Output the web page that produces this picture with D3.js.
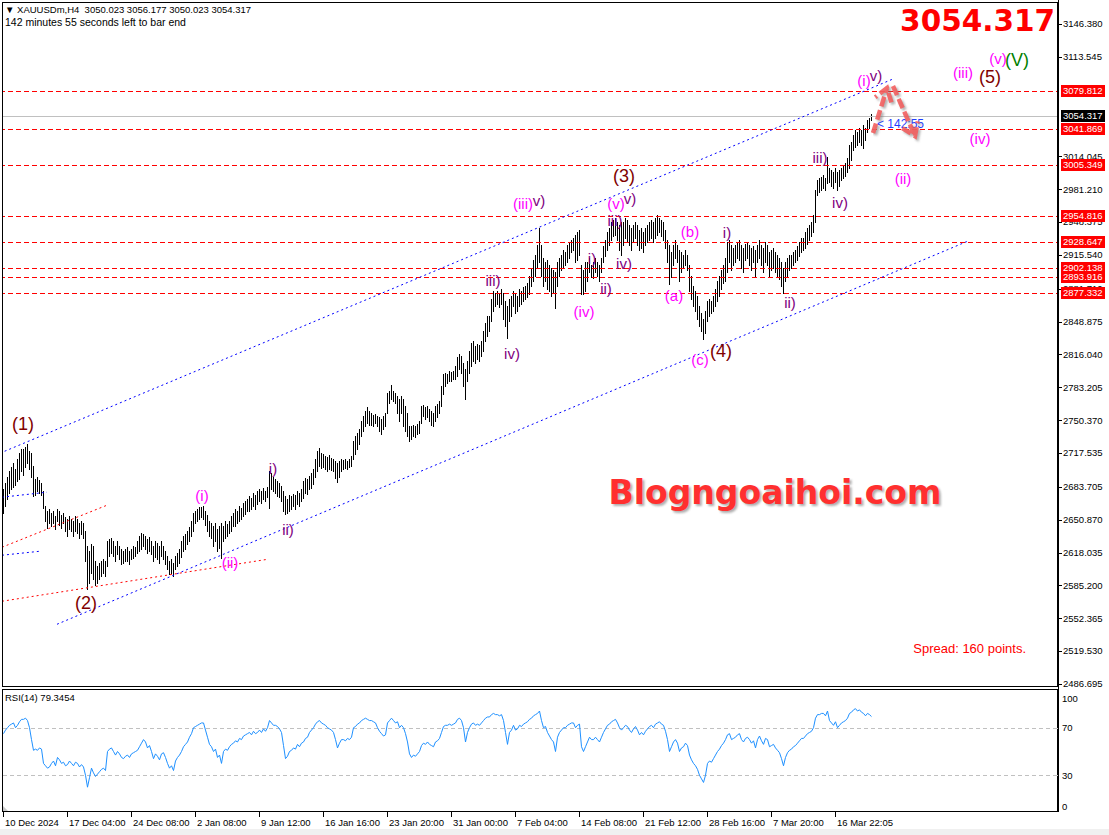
<!DOCTYPE html>
<html>
<head>
<meta charset="utf-8">
<script src="https://cdn.jsdelivr.net/npm/d3@7"></script>
<style>
body { margin: 0; background: #fff; }
svg { display: block; }
</style>
</head>
<body>
<svg id="chart" width="1109" height="835" font-family="Liberation Sans, Arial, sans-serif"></svg>
<script>
// XAUUSDm H4, one value per bar
const highs = [
2682,2688,2694,2700,2704,2708,2702,2712,2718,2722,
2722,2724,2727,2720,2718,2705,2692,2694,2691,2688,
2680,2665,2660,2662,2658,2660,2655,2662,2660,2656,
2658,2654,2652,2655,2652,2650,2655,2652,2648,2650,
2648,2640,2625,2620,2627,2625,2610,2605,2608,2610,
2612,2610,2630,2632,2633,2630,2625,2630,2625,2622,
2620,2622,2624,2620,2622,2625,2624,2630,2635,2638,
2637,2635,2632,2634,2630,2625,2630,2628,2625,2630,
2625,2620,2615,2610,2612,2608,2615,2618,2622,2630,
2635,2637,2640,2644,2650,2658,2660,2662,2664,2664,
2665,2660,2656,2650,2648,2645,2648,2642,2645,2648,
2645,2650,2647,2650,2655,2658,2662,2660,2665,2663,
2668,2670,2672,2675,2673,2678,2676,2680,2682,2680,
2683,2680,2684,2700,2698,2694,2692,2690,2688,2685,
2680,2675,2672,2676,2675,2677,2676,2680,2678,2682,
2690,2693,2692,2695,2698,2702,2712,2720,2723,2718,
2717,2715,2714,2716,2713,2712,2710,2708,2710,2712,
2711,2712,2710,2712,2715,2730,2735,2738,2742,2750,
2755,2760,2764,2760,2758,2756,2757,2755,2754,2752,
2755,2758,2778,2780,2786,2780,2778,2775,2772,2775,
2772,2765,2758,2745,2745,2746,2745,2747,2750,2765,
2766,2764,2765,2762,2760,2758,2765,2767,2770,2785,
2797,2798,2797,2800,2799,2800,2805,2814,2817,2815,
2808,2802,2810,2820,2828,2830,2825,2827,2826,2830,
2840,2848,2855,2855,2872,2880,2878,2880,2878,2882,
2878,2870,2865,2872,2875,2880,2878,2875,2882,2880,
2884,2885,2888,2895,2902,2910,2915,2925,2942,2925,
2912,2908,2910,2905,2902,2900,2898,2908,2912,2915,
2920,2918,2925,2928,2930,2932,2935,2938,2940,2905,
2900,2908,2908,2912,2905,2908,2912,2908,2905,2912,
2924,2930,2938,2942,2948,2950,2952,2948,2945,2948,
2948,2952,2950,2945,2942,2945,2948,2945,2940,2942,
2938,2942,2945,2948,2950,2948,2952,2955,2952,2950,
2948,2940,2930,2925,2918,2925,2930,2925,2920,2918,
2915,2920,2915,2905,2895,2885,2880,2875,2865,2858,
2852,2860,2870,2872,2870,2875,2882,2890,2895,2900,
2905,2912,2928,2930,2925,2922,2925,2928,2930,2925,
2922,2926,2928,2925,2922,2924,2920,2925,2930,2925,
2922,2928,2925,2918,2920,2922,2918,2915,2912,2908,
2902,2908,2912,2915,2915,2918,2920,2924,2928,2932,
2932,2938,2942,2945,2948,2955,2980,2990,2992,2993,
2995,2992,3013,3002,3000,2998,3002,2998,3000,3002,
3005,3007,3012,3025,3028,3035,3040,3038,3042,3040,
3045,3042,3050,3052,3056.177
];
const lows = [
2658,2665,2672,2678,2682,2684,2686,2690,2692,2700,
2696,2704,2708,2702,2694,2675,2676,2680,2678,2676,
2663,2650,2643,2648,2645,2648,2642,2650,2646,2643,
2648,2640,2635,2642,2640,2635,2640,2638,2633,2637,
2633,2610,2582,2588,2598,2592,2586,2588,2592,2595,
2598,2595,2605,2615,2618,2615,2610,2617,2612,2607,
2608,2610,2610,2607,2612,2613,2615,2618,2620,2622,
2625,2622,2618,2620,2617,2610,2614,2612,2608,2615,
2612,2607,2602,2597,2598,2595,2602,2605,2608,2614,
2620,2622,2627,2630,2635,2640,2648,2650,2652,2654,
2652,2646,2640,2635,2633,2625,2630,2620,2623,2613,
2630,2633,2635,2638,2640,2645,2645,2648,2650,2652,
2655,2657,2660,2660,2662,2665,2662,2667,2670,2668,
2672,2670,2674,2663,2682,2680,2678,2675,2674,2670,
2660,2657,2658,2660,2662,2665,2662,2667,2665,2670,
2673,2678,2677,2682,2683,2687,2694,2700,2705,2703,
2704,2702,2700,2702,2701,2700,2693,2689,2694,2700,
2702,2703,2702,2704,2705,2712,2717,2722,2727,2735,
2740,2745,2748,2746,2746,2745,2748,2745,2740,2737,
2742,2745,2758,2768,2772,2770,2768,2758,2750,2758,
2745,2740,2735,2730,2732,2735,2734,2737,2738,2748,
2755,2752,2754,2750,2746,2745,2750,2754,2758,2765,
2777,2785,2788,2790,2790,2792,2792,2795,2802,2798,
2785,2772,2790,2798,2805,2810,2808,2812,2810,2815,
2820,2830,2835,2840,2850,2860,2865,2867,2864,2867,
2852,2845,2833,2850,2855,2865,2858,2860,2865,2867,
2870,2872,2874,2877,2885,2890,2895,2902,2908,2895,
2885,2890,2882,2880,2875,2878,2863,2885,2895,2900,
2902,2905,2908,2912,2918,2920,2908,2910,2915,2877,
2877,2880,2890,2898,2894,2893,2898,2895,2890,2898,
2908,2914,2920,2925,2930,2934,2935,2930,2920,2915,
2925,2932,2928,2925,2920,2928,2932,2925,2920,2922,
2918,2925,2928,2930,2932,2928,2932,2935,2938,2934,
2930,2922,2908,2887,2894,2905,2912,2908,2890,2898,
2902,2905,2900,2880,2872,2865,2860,2852,2845,2840,
2832,2838,2850,2855,2858,2860,2865,2870,2875,2882,
2888,2890,2898,2908,2900,2905,2908,2912,2910,2902,
2898,2910,2912,2905,2900,2908,2895,2908,2912,2905,
2898,2908,2905,2895,2900,2902,2898,2895,2892,2885,
2878,2890,2895,2900,2902,2905,2908,2910,2914,2918,
2920,2922,2926,2930,2934,2938,2948,2975,2978,2980,
2982,2980,2987,2988,2984,2982,2988,2980,2984,2990,
2992,2994,2998,3002,3010,3020,3023,3025,3028,3025,
3022,3030,3038,3042,3050.023
];
const rsi = [
65,68,70,72,73,74,70,72,75,77,
77,78,76,70,60,51,52,51,53,52,
40,38,36,37,40,42,38,45,43,40,
41,38,39,42,40,38,41,40,37,39,
37,30,20,28,36,32,29,31,33,35,
36,34,50,52,53,50,47,50,48,45,
44,46,47,45,48,49,50,51,54,57,
60,58,53,55,50,44,48,46,43,48,
49,45,40,36,38,34,42,45,47,50,
54,56,58,62,65,70,71,72,73,74,
74,68,62,56,54,50,52,45,47,40,
50,52,51,54,56,57,59,58,61,60,
63,64,65,66,64,67,65,66,68,66,
69,67,70,76,74,72,72,71,69,66,
55,44,46,50,51,53,52,56,54,57,
58,61,62,66,68,70,73,75,76,74,
73,72,70,69,68,66,60,53,57,60,
60,59,61,60,62,70,71,73,74,76,
77,78,77,76,76,75,74,70,67,65,
63,64,74,76,78,76,74,75,70,72,
70,65,58,48,45,47,46,48,50,55,
57,56,58,56,55,54,58,59,61,66,
71,72,72,73,72,73,74,77,78,76,
70,58,66,70,73,74,72,73,72,74,
76,78,79,79,81,82,81,81,80,81,
76,66,56,66,68,72,68,69,72,71,
73,74,75,77,78,80,81,82,84,76,
70,71,66,63,60,58,50,62,66,68,
70,70,72,73,74,74,70,72,73,54,
50,54,58,62,60,60,62,60,58,62,
66,69,72,73,75,76,77,74,70,68,
70,72,71,68,66,69,71,68,64,66,
64,67,69,71,72,70,73,74,75,73,
72,67,60,50,54,58,60,57,50,53,
54,57,55,47,43,40,38,35,30,27,
24,30,40,42,41,44,47,50,52,55,
57,60,64,65,60,61,62,64,65,60,
58,61,62,60,57,59,53,60,63,59,
56,61,60,54,55,56,53,51,49,44,
38,45,49,51,52,54,55,57,59,61,
61,63,65,66,67,70,78,81,81,82,
82,80,84,76,74,72,75,70,72,74,
75,76,78,82,83,85,86,84,85,83,
82,80,82,81,79.3454
];

const timeLabels = ['10 Dec 2024','17 Dec 04:00','24 Dec 08:00','2 Jan 08:00','9 Jan 12:00','16 Jan 16:00',
  '23 Jan 20:00','31 Jan 00:00','7 Feb 04:00','14 Feb 08:00','21 Feb 12:00','28 Feb 16:00','7 Mar 20:00','16 Mar 22:05'];
const timeTickBars = [0,32,64,96,128,160,192,224,256,288,320,352,384,416];
// ticks hidden behind the price labels are left out
const priceTicks = [3146.380,3113.545,3014.045,2981.210,2948.375,2915.540,2881.710,2848.875,
  2816.040,2783.205,2750.370,2717.535,2683.705,2650.870,2618.035,2585.200,2552.365,2519.530,2486.695];
const levels = [2877.332,2893.916,2902.138,2928.647,2954.816,3005.349,3041.869,3079.812];
const lastPrice = 3054.317;
const rsiTicks = [100,70,30,0];
const rsiLevels = [70,30];

// trend lines as [bar, price] anchors
const trendLines = [
  {c:'#0000ff', p:[[-1.5,2717.4],[445,3091.4]]},
  {c:'#0000ff', p:[[27,2546.4],[482.5,2929.4]]},
  {c:'#0000ff', p:[[-0.5,2673.4],[22,2678.4]]},
  {c:'#0000ff', p:[[-0.5,2615.4],[18.5,2619.4]]},
  {c:'#ff0000', p:[[-0.5,2623.4],[52,2665.4]]},
  {c:'#ff0000', p:[[-0.5,2569.4],[132.5,2611.4]]}
];
const arrows = [
  [[435,3037.4],[442,3082.4]],
  [[445,3084.4],[456,3034.4]]
];

// wave labels: text, bar, price, style
const waves = [
  ['(1)',10,2747,'M'],['(2)',41.5,2568,'M'],['(3)',310.5,2995,'M'],['(4)',359,2820,'M'],['(5)',493.5,3094,'M'],
  ['(V)',507,3111,'G'],
  ['(i)',99.5,2675,'m'],['(ii)',113.5,2608,'m'],['(iii)',260,2967,'m'],['(iv)',290.5,2859,'m'],['(v)',306.5,2967,'m'],
  ['(b)',343.5,2939,'m'],['(a)',335.5,2875,'m'],['(c)',348.5,2811,'m'],
  ['(i)',430.5,3090,'m'],['(ii)',450,2992,'m'],['(iii)',480,3098,'m'],['(iv)',488.5,3032,'m'],['(v)',497.5,3112,'m'],
  ['i)',135,2702,'p'],['ii)',142.5,2641,'p'],['iii)',245,2890,'p'],['iv)',254.5,2817,'p'],['v)',268,2970,'p'],
  ['i)',294.5,2912,'p'],['ii)',301.5,2882,'p'],['iii)',306,2950,'p'],['iv)',310.5,2907,'p'],['v)',313.5,2972,'p'],
  ['i)',362,2938,'p'],['ii)',393.5,2868,'p'],['iii)',408.5,3013,'p'],['iv)',418.5,2968,'p'],['v)',436.5,3095,'p']
];
const waveStyle = {
  M: {fill:'#800000', size:18},
  G: {fill:'#008000', size:18},
  m: {fill:'#ff00ff', size:15},
  p: {fill:'#800080', size:15}
};

const SMALL = 9.5;
const BOLD = '"DejaVu Sans", Verdana, sans-serif';

const svg = d3.select('#chart');
const n = highs.length;
const x = d3.scaleLinear().domain([0, n - 1]).range([3, 3 + 2 * (n - 1)]);
const y = d3.scaleLinear().domain([2486.695, 3146.380]).range([684, 24]);
const yr = d3.scaleLinear().domain([0, 100]).range([811, 692]);
const axisX = 1058;
const py = v => Math.round(y(v)) + 0.5;

svg.append('rect').attr('width', 1109).attr('height', 835).attr('fill', '#fff');
svg.append('rect').attr('y', 829).attr('width', 1109).attr('height', 6).attr('fill', '#f0f0f0');

const defs = svg.append('defs');
defs.append('clipPath').attr('id', 'mainClip')
  .append('rect').attr('x', 2).attr('y', 2).attr('width', axisX - 2).attr('height', 685);
defs.append('filter').attr('id', 'blur').append('feGaussianBlur').attr('stdDeviation', 1.2);

const main = svg.append('g').attr('clip-path', 'url(#mainClip)');

// bars
main.append('g').attr('shape-rendering', 'crispEdges')
  .selectAll('line').data(highs).join('line')
  .attr('x1', (d, i) => x(i) + 0.5).attr('x2', (d, i) => x(i) + 0.5)
  .attr('y1', d => Math.round(y(d))).attr('y2', (d, i) => Math.round(y(lows[i])) + 1)
  .attr('stroke', '#000').attr('stroke-width', 1);

// horizontal levels
const lv = main.append('g').attr('shape-rendering', 'crispEdges');
lv.selectAll('line').data(levels).join('line')
  .attr('x1', 0).attr('x2', axisX).attr('y1', py).attr('y2', py)
  .attr('stroke', '#ff0000').attr('stroke-width', 1).attr('stroke-dasharray', '5,3');
lv.append('line').attr('x1', 0).attr('x2', axisX)
  .attr('y1', py(lastPrice)).attr('y2', py(lastPrice)).attr('stroke', '#c0c0c0');

// trend lines
main.append('g').selectAll('line').data(trendLines).join('line')
  .attr('x1', d => x(d.p[0][0])).attr('y1', d => y(d.p[0][1]))
  .attr('x2', d => x(d.p[1][0])).attr('y2', d => y(d.p[1][1]))
  .attr('stroke', d => d.c).attr('stroke-dasharray', '2,3');

// wave labels
main.append('g').selectAll('text').data(waves).join('text')
  .attr('x', d => x(d[1])).attr('y', d => y(d[2])).attr('dy', '0.35em')
  .attr('text-anchor', 'middle')
  .attr('font-size', d => waveStyle[d[3]].size)
  .attr('fill', d => waveStyle[d[3]].fill)
  .text(d => d[0]);

// bar timer
main.append('text').attr('x', x(437)).attr('y', y(3047)).attr('dy', '0.35em')
  .attr('font-size', 12).attr('fill', '#1f3dff').text('< 142:55');

// forecast arrows
function arrowPath(a) {
  const x1 = x(a[0][0]), y1 = y(a[0][1]), x2 = x(a[1][0]), y2 = y(a[1][1]);
  const ang = Math.atan2(y2 - y1, x2 - x1), L = 15;
  const h1 = [x2 - L * Math.cos(ang - 0.6), y2 - L * Math.sin(ang - 0.6)];
  const h2 = [x2 - L * Math.cos(ang + 0.6), y2 - L * Math.sin(ang + 0.6)];
  return `M${x1},${y1}L${x2},${y2}M${h1[0]},${h1[1]}L${x2},${y2}L${h2[0]},${h2[1]}`;
}
const arr = main.append('g');
arr.selectAll('path.sh').data(arrows).join('path').attr('class', 'sh')
  .attr('d', arrowPath).attr('transform', 'translate(2,2)')
  .attr('fill', 'none').attr('stroke', '#777').attr('stroke-opacity', 0.55)
  .attr('stroke-width', 4.5).attr('stroke-dasharray', '10,4').attr('filter', 'url(#blur)');
arr.selectAll('path.ar').data(arrows).join('path').attr('class', 'ar')
  .attr('d', arrowPath)
  .attr('fill', 'none').attr('stroke', '#f25f5f').attr('stroke-opacity', 0.9)
  .attr('stroke-width', 4.5).attr('stroke-dasharray', '10,4');

// watermark
svg.append('text').attr('x', 777).attr('y', 506).attr('text-anchor', 'middle')
  .attr('font-family', BOLD).attr('font-weight', 'bold').attr('font-size', 33)
  .attr('fill', '#777').attr('opacity', 0.6).attr('filter', 'url(#blur)').text('Blogngoaihoi.com');
svg.append('text').attr('x', 775).attr('y', 504).attr('text-anchor', 'middle')
  .attr('font-family', BOLD).attr('font-weight', 'bold').attr('font-size', 33)
  .attr('fill', '#ff2f2f').text('Blogngoaihoi.com');

// big price
svg.append('text').attr('x', 1055).attr('y', 31).attr('text-anchor', 'end')
  .attr('font-family', BOLD).attr('font-weight', 'bold').attr('font-size', 29.5)
  .attr('fill', '#ff0000').text(lastPrice.toFixed(3));

svg.append('text').attr('x', 1026).attr('y', 653).attr('text-anchor', 'end')
  .attr('font-size', 13).attr('fill', '#ff0000').text('Spread: 160 points.');

// header
svg.append('text').attr('x', 5).attr('y', 13).attr('font-size', SMALL)
  .style('white-space', 'pre')
  .text('\u25BC XAUUSDm,H4  3050.023 3056.177 3050.023 3054.317');
svg.append('text').attr('x', 5).attr('y', 26).attr('font-size', 10.5)
  .text('142 minutes 55 seconds left to bar end');

// RSI panel
const rg = svg.append('g');
rg.selectAll('line.lv').data(rsiLevels).join('line').attr('class', 'lv')
  .attr('x1', 3).attr('x2', axisX)
  .attr('y1', d => Math.round(yr(d)) + 0.5).attr('y2', d => Math.round(yr(d)) + 0.5)
  .attr('stroke', '#c0c0c0').attr('stroke-dasharray', '4,3');
rg.append('path').datum(rsi)
  .attr('d', d3.line().x((d, i) => x(i) + 0.5).y(d => yr(d)))
  .attr('fill', 'none').attr('stroke', '#1e90ff').attr('stroke-width', 1);
rg.append('text').attr('x', 5).attr('y', 701).attr('font-size', SMALL)
  .text('RSI(14) 79.3454');

// frames
const fr = svg.append('g').attr('shape-rendering', 'crispEdges');
fr.append('rect').attr('x', 2.5).attr('y', 2.5).attr('width', axisX - 3).attr('height', 684)
  .attr('fill', 'none').attr('stroke', '#000');
fr.append('rect').attr('x', 2.5).attr('y', 689.5).attr('width', axisX - 3).attr('height', 122)
  .attr('fill', 'none').attr('stroke', '#000');
svg.append('path').attr('d', 'M3,806L3,811L8,811Z').attr('fill', '#c8c8c8');

// price axis
const pa = svg.append('g').attr('font-size', SMALL);
pa.selectAll('line').data(priceTicks).join('line')
  .attr('x1', axisX).attr('x2', axisX + 4).attr('y1', py).attr('y2', py).attr('stroke', '#000');
pa.selectAll('text').data(priceTicks).join('text')
  .attr('x', axisX + 5).attr('y', d => y(d)).attr('dy', '0.35em')
  .text(d => d.toFixed(3));

// level labels, lower prices first so the higher ones sit on top
const lab = svg.append('g').attr('font-size', SMALL);
const lvAll = levels.map(v => ({v, fill: '#ff0000'})).concat([{v: lastPrice, fill: '#000'}]);
lvAll.forEach(d => {
  const yy = Math.round(y(d.v));
  lab.append('rect').attr('x', axisX + 3).attr('y', yy - 6).attr('width', 44).attr('height', 12).attr('fill', d.fill);
  lab.append('text').attr('x', axisX + 5).attr('y', yy).attr('dy', '0.35em')
    .attr('fill', '#fff').text(d.v.toFixed(3));
});

// RSI axis
const ra = svg.append('g').attr('font-size', SMALL);
ra.selectAll('line').data(rsiLevels).join('line')
  .attr('x1', axisX - 4).attr('x2', axisX)
  .attr('y1', d => Math.round(yr(d)) + 0.5).attr('y2', d => Math.round(yr(d)) + 0.5).attr('stroke', '#c0c0c0');
ra.selectAll('text').data(rsiTicks).join('text')
  .attr('x', axisX + 4)
  .attr('y', d => d === 100 ? 702 : d === 0 ? 810 : yr(d) + 3.5)
  .text(d => d);

svg.append('line').attr('x1', axisX + 0.5).attr('x2', axisX + 0.5).attr('y1', 0).attr('y2', 812)
  .attr('stroke', '#000').attr('shape-rendering', 'crispEdges');

// time axis
const ta = svg.append('g').attr('font-size', SMALL);
ta.selectAll('line').data(timeTickBars).join('line')
  .attr('x1', d => x(d) + 0.5).attr('x2', d => x(d) + 0.5).attr('y1', 812).attr('y2', 817)
  .attr('stroke', '#000').attr('shape-rendering', 'crispEdges');
ta.selectAll('text').data(timeTickBars).join('text')
  .attr('x', d => x(d) + 2).attr('y', 826)
  .text((d, i) => timeLabels[i]);
</script>
</body>
</html>
